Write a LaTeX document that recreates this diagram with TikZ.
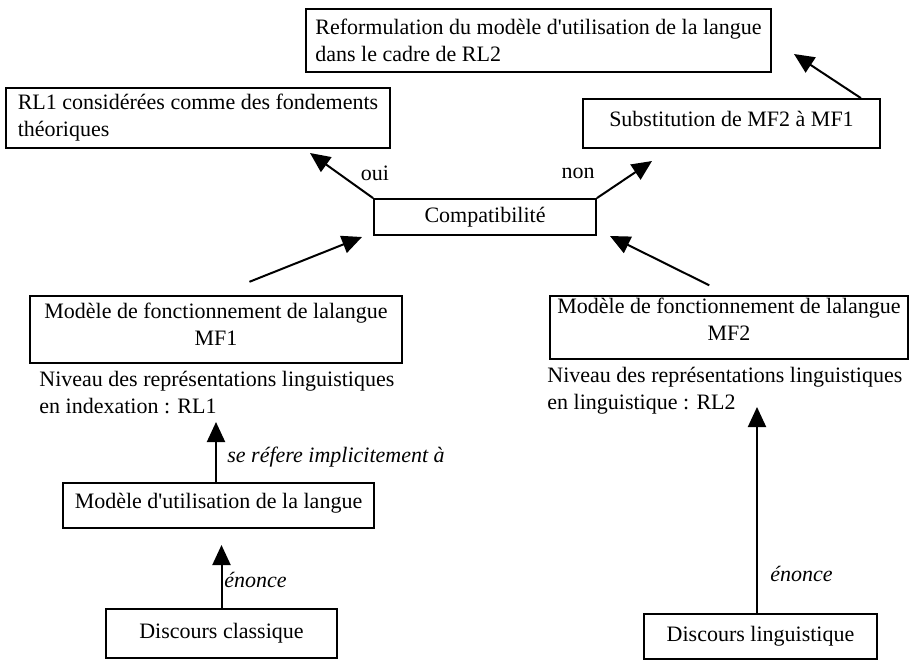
\documentclass[tikz,border=0pt]{standalone}
\usepackage{fontspec}
\setmainfont{Liberation Serif}
\usetikzlibrary{arrows.meta}
\usetikzlibrary{calc}

\begin{document}
\begin{tikzpicture}[x=0.5pt,y=-0.5pt,font=\fontsize{11pt}{13.5pt}\selectfont,
	box/.style={draw,line width=0.9pt,inner sep=0pt},
	txt/.style={inner sep=0pt,align=left,anchor=west},
	arr/.style={line width=1pt,-{Triangle[length=10pt,width=9pt]}}]
	\useasboundingbox (0,0) rectangle (911,660);
	\node[box,minimum width=232.5pt,minimum height=31.5pt,align=left] (ref) at (538.5,40.5) {Reformulation du modèle d\textquotesingle utilisation de la langue\\dans le cadre de RL2};
	\node[box,minimum width=192pt,minimum height=30pt,align=left] (rl1) at (198,118) {RL1 considérées comme des fondements\\théoriques};
	\node[box,minimum width=148.5pt,minimum height=24.5pt,text depth=5pt] (sub) at (731.5,123.5) {Substitution de MF2 à MF1};
	\node[box,minimum width=111pt,minimum height=18pt] (comp) at (485,217) {Compatibilité};
	\node[box,minimum width=186pt,minimum height=33.5pt,align=center,text depth=5pt] (mf1) at (216,329.5) {Modèle de fonctionnement de lalangue\\MF1};
	\node[box,minimum width=179pt,minimum height=31.5pt,align=center,text depth=8pt] (mf2) at (729,327.5) {Modèle de fonctionnement de lalangue\\MF2};
	\node[txt] (niv1) at (39,392.5) {Niveau des représentations linguistiques\\en indexation : RL1};
	\node[txt] (niv2) at (547,391) {Niveau des représentations linguistiques\\en linguistique : RL2};
	\node[box,minimum width=155.5pt,minimum height=22.5pt,text depth=5pt] (util) at (218.5,505.5) {Modèle d\textquotesingle utilisation de la langue};
	\node[box,minimum width=115.5pt,minimum height=24.5pt] (dcl) at (221.5,633.5) {Discours classique};
	\node[box,minimum width=116.5pt,minimum height=22.5pt] (dling) at (760.5,636.5) {Discours linguistique};

	\node (oui) at (375,173) {oui};
	\node (non) at (578,173) {non};
	\node[txt] (refere) at (227,457) {\itshape se réfere implicitement à};
	\node[txt] (enonce1) at (224,580) {\itshape énonce};
	\node[txt] (enonce2) at (770,574) {\itshape énonce};

	\coordinate (toui) at (310,153);
	\coordinate (tnon) at (652,161);
	\coordinate (tref) at (794,54);
	\coordinate (tc1) at (362,237);
	\coordinate (tc2) at (610,236);
	\coordinate (tn1) at (216,422);
	\coordinate (tu) at (221.5,545);
	\coordinate (tn2) at (757,407);

	\foreach \from/\to in {comp.north west/toui,comp.north east/tnon,dcl.north/tu}
		\draw[arr] (\from) -- (\to);
	\draw[arr] ($(sub.north east)+(-20,0)$) -- (tref);
	\draw[arr,shorten <=18pt] (mf1.north) -- (tc1);
	\draw[arr,shorten <=11pt] (mf2.north) -- (tc2);
	\draw[arr] (util.north -| tn1) -- (tn1);
	\draw[arr] (dling.north -| tn2) -- (tn2);
\end{tikzpicture}
\end{document}
